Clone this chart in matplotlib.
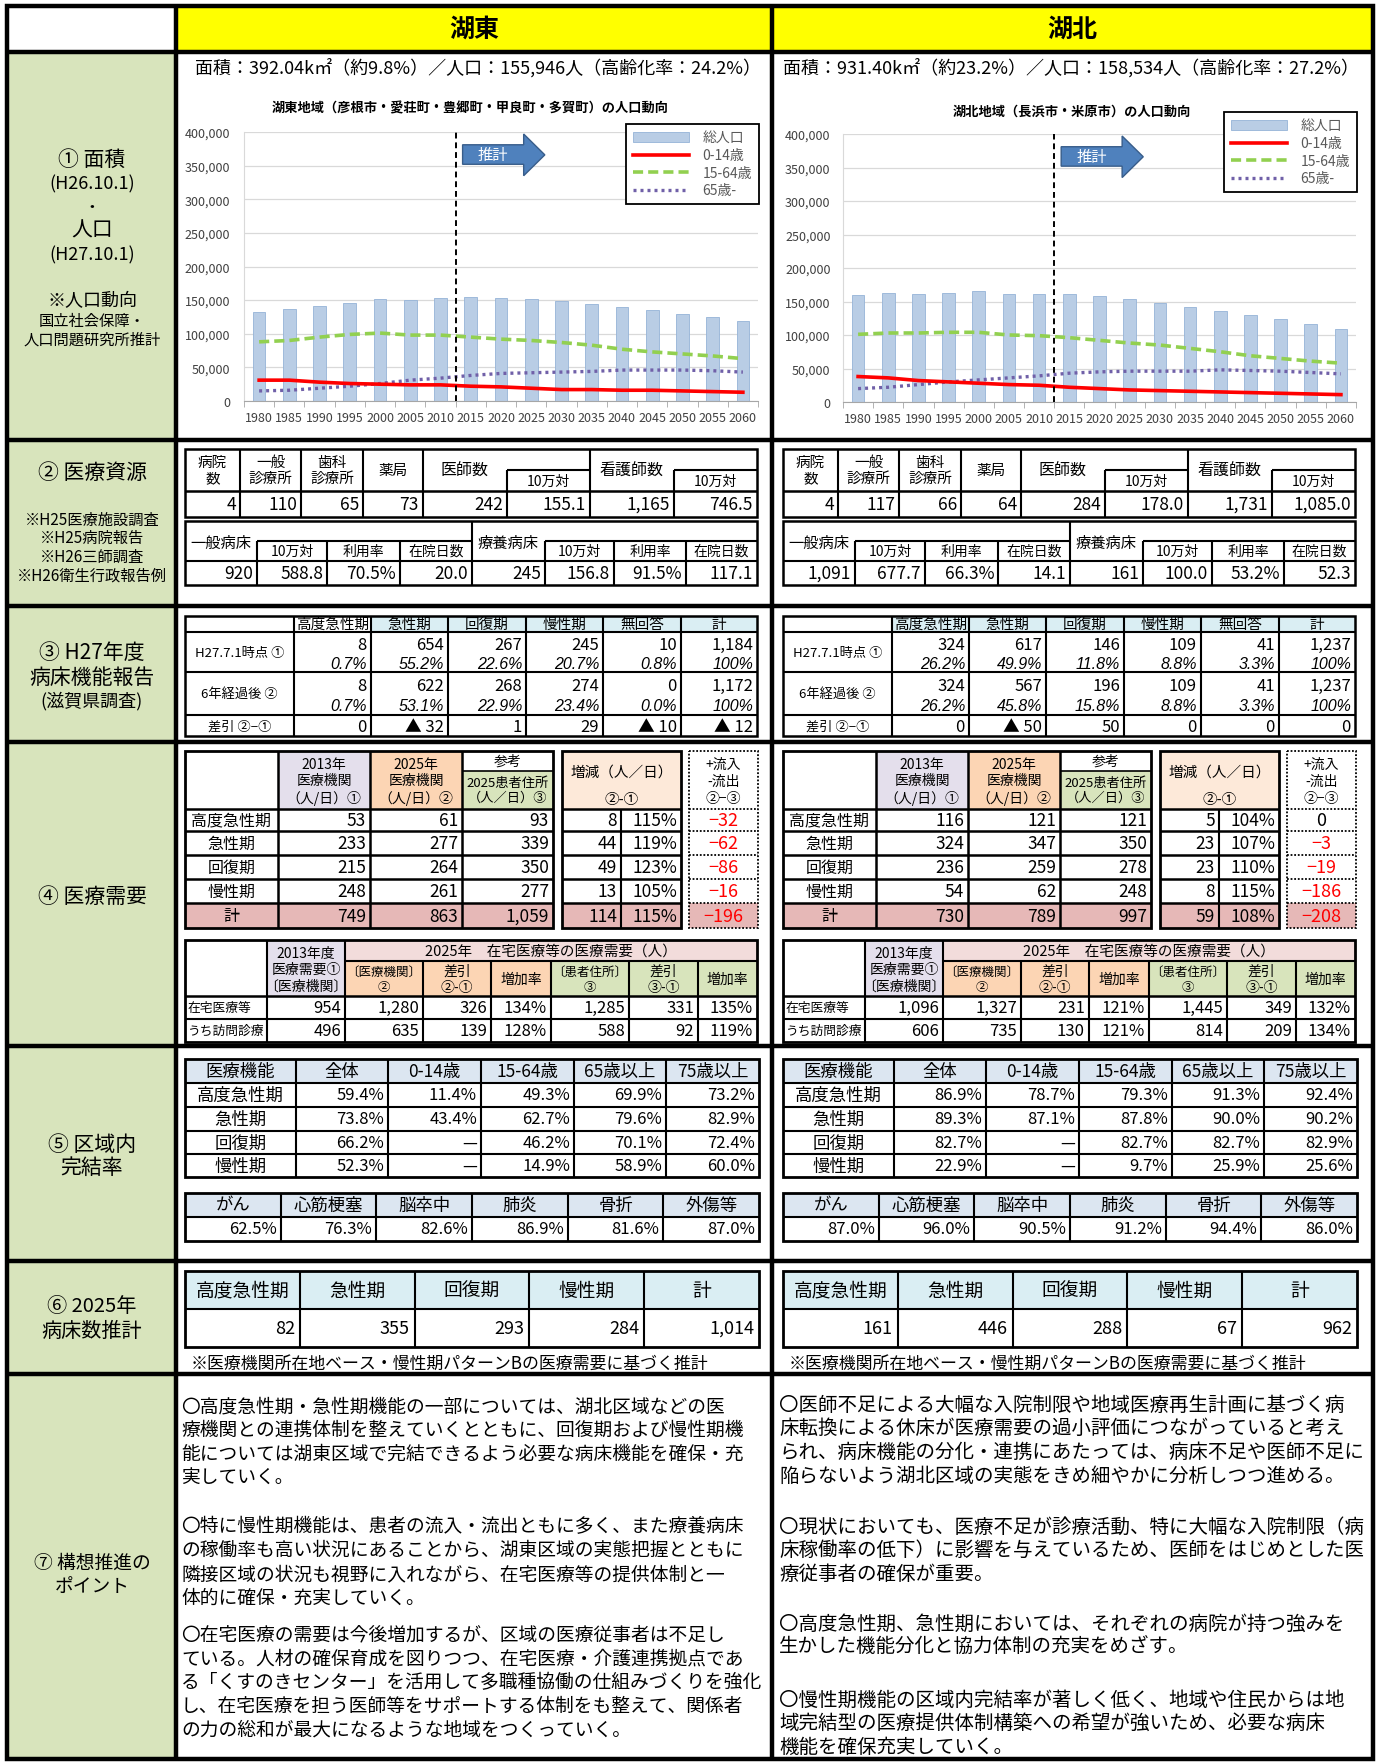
import matplotlib.pyplot as plt
import matplotlib.patches as mpatches
from matplotlib.ticker import FuncFormatter
import numpy as np

plt.rcParams['font.family'] = ['Noto Sans CJK JP', 'DejaVu Sans']

W, H = 1378, 1765

# ---------------- population trend (persons) ----------------
years = [1980, 1985, 1990, 1995, 2000, 2005, 2010, 2015, 2020, 2025,
         2030, 2035, 2040, 2045, 2050, 2055, 2060]
kt_total = [132000, 137000, 142000, 146000, 151000, 150000, 153000, 155000, 153000,
            151000, 148000, 144000, 140000, 135000, 130000, 125000, 119000]
kt_0_14 = [31000, 31000, 28000, 26000, 25000, 24000, 24000, 22000, 21000,
           19000, 17000, 17000, 16000, 16000, 15000, 14000, 13000]
kt_15_64 = [88000, 90000, 95000, 99000, 101000, 98000, 98000, 95000, 92000,
            90000, 87000, 83000, 77000, 73000, 70000, 67000, 63000]
kt_65 = [15000, 16000, 19000, 22000, 26000, 31000, 34000, 38000, 41000,
         42000, 43000, 44000, 46000, 46000, 46000, 45000, 43000]
kh_total = [160000, 162000, 161000, 162000, 165000, 161000, 161000, 161000, 158000,
            153000, 148000, 142000, 136000, 130000, 124000, 117000, 109000]
kh_0_14 = [38000, 36000, 32000, 30000, 28000, 26000, 25000, 22000, 20000,
           18000, 17000, 16000, 15000, 14000, 13000, 12000, 11000]
kh_15_64 = [101000, 103000, 103000, 104000, 104000, 100000, 99000, 96000, 92000,
            88000, 85000, 80000, 75000, 69000, 65000, 61000, 58000]
kh_65 = [20000, 22000, 26000, 30000, 33000, 36000, 39000, 43000, 45000,
         46000, 46000, 46000, 48000, 47000, 46000, 44000, 42000]
legend_labels = ['総人口', '0-14歳', '15-64歳', '65歳-']

kt_sub = '面積：392.04k㎡（約9.8%）／人口：155,946人（高齢化率：24.2%）'
kh_sub = '面積：931.40k㎡（約23.2%）／人口：158,534人（高齢化率：27.2%）'
kt_title = '湖東地域（彦根市・愛荘町・豊郷町・甲良町・多賀町）の人口動向'
kh_title = '湖北地域（長浜市・米原市）の人口動向'

# ---------------- ② resources ----------------
res_head1 = ['病院\n数', '一般\n診療所', '歯科\n診療所', '薬局', '医師数', '10万対', '看護師数', '10万対']
kt_res1 = ['4', '110', '65', '73', '242', '155.1', '1,165', '746.5']
kh_res1 = ['4', '117', '66', '64', '284', '178.0', '1,731', '1,085.0']
res_head2 = ['一般病床', '10万対', '利用率', '在院日数', '療養病床', '10万対', '利用率', '在院日数']
kt_res2 = ['920', '588.8', '70.5%', '20.0', '245', '156.8', '91.5%', '117.1']
kh_res2 = ['1,091', '677.7', '66.3%', '14.1', '161', '100.0', '53.2%', '52.3']

# ---------------- ③ bed function report ----------------
phases = ['高度急性期', '急性期', '回復期', '慢性期']
bed_head = phases + ['無回答', '計']
bed_rows = ['H27.7.1時点 ①', '6年経過後 ②', '差引 ②−①']
kt_bed_now = ['8', '654', '267', '245', '10', '1,184']
kt_pct_now = ['0.7%', '55.2%', '22.6%', '20.7%', '0.8%', '100%']
kt_bed_6y = ['8', '622', '268', '274', '0', '1,172']
kt_pct_6y = ['0.7%', '53.1%', '22.9%', '23.4%', '0.0%', '100%']
kt_bed_diff = ['0', '▲ 32', '1', '29', '▲ 10', '▲ 12']
kh_bed_now = ['324', '617', '146', '109', '41', '1,237']
kh_pct_now = ['26.2%', '49.9%', '11.8%', '8.8%', '3.3%', '100%']
kh_bed_6y = ['324', '567', '196', '109', '41', '1,237']
kh_pct_6y = ['26.2%', '45.8%', '15.8%', '8.8%', '3.3%', '100%']
kh_bed_diff = ['0', '▲ 50', '50', '0', '0', '0']

# ---------------- ④ medical demand ----------------
dm_rows = phases + ['計']
kt_dm13 = [53, 233, 215, 248, 749]
kt_dm25 = [61, 277, 264, 261, 863]
kt_dmres = [93, 339, 350, 277, 1059]
kt_dminc = [8, 44, 49, 13, 114]
kt_dmrate = ['115%', '119%', '123%', '105%', '115%']
kt_dmflow = [-32, -62, -86, -16, -196]
kh_dm13 = [116, 324, 236, 54, 730]
kh_dm25 = [121, 347, 259, 62, 789]
kh_dmres = [121, 350, 278, 248, 997]
kh_dminc = [5, 23, 23, 8, 59]
kh_dmrate = ['104%', '107%', '110%', '115%', '108%']
kh_dmflow = [0, -3, -19, -186, -208]

home_rows = ['在宅医療等', 'うち訪問診療']
home_sub = ['〔医療機関〕\n②', '差引\n②-①', '増加率', '〔患者住所〕\n③', '差引\n③-①', '増加率']
kt_home1 = ['954', '1,280', '326', '134%', '1,285', '331', '135%']
kt_home2 = ['496', '635', '139', '128%', '588', '92', '119%']
kh_home1 = ['1,096', '1,327', '231', '121%', '1,445', '349', '132%']
kh_home2 = ['606', '735', '130', '121%', '814', '209', '134%']

# ---------------- ⑤ completion rate ----------------
comp_head = ['医療機能', '全体', '0-14歳', '15-64歳', '65歳以上', '75歳以上']
kt_comp = [['59.4%', '11.4%', '49.3%', '69.9%', '73.2%'],
           ['73.8%', '43.4%', '62.7%', '79.6%', '82.9%'],
           ['66.2%', '—', '46.2%', '70.1%', '72.4%'],
           ['52.3%', '—', '14.9%', '58.9%', '60.0%']]
kh_comp = [['86.9%', '78.7%', '79.3%', '91.3%', '92.4%'],
           ['89.3%', '87.1%', '87.8%', '90.0%', '90.2%'],
           ['82.7%', '—', '82.7%', '82.7%', '82.9%'],
           ['22.9%', '—', '9.7%', '25.9%', '25.6%']]
dis_head = ['がん', '心筋梗塞', '脳卒中', '肺炎', '骨折', '外傷等']
kt_dis = ['62.5%', '76.3%', '82.6%', '86.9%', '81.6%', '87.0%']
kh_dis = ['87.0%', '96.0%', '90.5%', '91.2%', '94.4%', '86.0%']

# ---------------- ⑥ beds 2025 ----------------
beds_head = phases + ['計']
kt_beds25 = [82, 355, 293, 284, 1014]
kh_beds25 = [161, 446, 288, 67, 962]
beds_note = '※医療機関所在地ベース・慢性期パターンBの医療需要に基づく推計'

# ---------------- ⑦ points ----------------
kt_points = [
    ['〇高度急性期・急性期機能の一部については、湖北区域などの医',
     '療機関との連携体制を整えていくとともに、回復期および慢性期機',
     '能については湖東区域で完結できるよう必要な病床機能を確保・充',
     '実していく。'],
    ['〇特に慢性期機能は、患者の流入・流出ともに多く、また療養病床',
     'の稼働率も高い状況にあることから、湖東区域の実態把握とともに',
     '隣接区域の状況も視野に入れながら、在宅医療等の提供体制と一',
     '体的に確保・充実していく。'],
    ['〇在宅医療の需要は今後増加するが、区域の医療従事者は不足し',
     'ている。人材の確保育成を図りつつ、在宅医療・介護連携拠点であ',
     'る「くすのきセンター」を活用して多職種協働の仕組みづくりを強化',
     'し、在宅医療を担う医師等をサポートする体制をも整えて、関係者',
     'の力の総和が最大になるような地域をつくっていく。']]
kh_points = [
    ['〇医師不足による大幅な入院制限や地域医療再生計画に基づく病',
     '床転換による休床が医療需要の過小評価につながっていると考え',
     'られ、病床機能の分化・連携にあたっては、病床不足や医師不足に',
     '陥らないよう湖北区域の実態をきめ細やかに分析しつつ進める。'],
    ['〇現状においても、医療不足が診療活動、特に大幅な入院制限（病',
     '床稼働率の低下）に影響を与えているため、医師をはじめとした医',
     '療従事者の確保が重要。'],
    ['〇高度急性期、急性期においては、それぞれの病院が持つ強みを',
     '生かした機能分化と協力体制の充実をめざす。'],
    ['〇慢性期機能の区域内完結率が著しく低く、地域や住民からは地',
     '域完結型の医療提供体制構築への希望が強いため、必要な病床',
     '機能を確保充実していく。']]

LAV, PEACH, GREEN, PINK = '#e4dfec', '#fcd5b4', '#d8e4bc', '#e6b8b7'

fig = plt.figure(figsize=(W / 100, H / 100), dpi=100)
L = fig.add_axes([0, 0, 1, 1])
L.set_xlim(0, W)
L.set_ylim(H, 0)
L.axis('off')


def fill(x0, y0, x1, y1, fc):
    L.add_patch(mpatches.Rectangle((x0, y0), x1 - x0, y1 - y0, fc=fc, ec='none', zorder=1))


def frame(x0, y0, x1, y1, lw=1.8, ls='-'):
    L.add_patch(mpatches.Rectangle((x0, y0), x1 - x0, y1 - y0, fc='none', ec='black',
                                   lw=lw, ls=ls, zorder=3))


def hline(y, x0, x1, lw=1.5, ls='-'):
    L.plot([x0, x1], [y, y], color='black', lw=lw, ls=ls, solid_capstyle='butt', zorder=3)


def vline(x, y0, y1, lw=1.5, ls='-'):
    L.plot([x, x], [y0, y1], color='black', lw=lw, ls=ls, solid_capstyle='butt', zorder=3)


def T(x, y, s, size=11, ha='center', color='black', **kw):
    L.text(x, y, s, fontsize=size, ha=ha, va='center', color=color, zorder=5, **kw)


def mid(a, b):
    return (a + b) / 2


# ---------------- page frame ----------------
fill(9, 9, 175, 53, 'white')
fill(175, 9, 1372, 53, '#ffff00')
fill(9, 53, 175, 1759, '#d8e4bc')
TH = 3.2
frame(7, 7, 1373, 1760, lw=TH)
hline(53, 7, 1373, lw=TH)
vline(176, 7, 1760, lw=TH)
vline(772, 7, 1760, lw=TH)
for yy in [441, 607, 743, 1047, 1262, 1375]:
    hline(yy, 7, 1373, lw=TH)
T(474, 30, '湖東', 18, weight='bold')
T(1072, 30, '湖北', 18, weight='bold')

left_labels = [('① 面積', 160, 15), ('(H26.10.1)', 184, 13), ('・', 207, 12),
               ('人口', 231, 15), ('(H27.10.1)', 255, 13), ('※人口動向', 301, 13),
               ('国立社会保障・', 321, 11), ('人口問題研究所推計', 340, 11),
               ('② 医療資源', 473, 15), ('※H25医療施設調査', 520, 11),
               ('※H25病院報告', 538, 11), ('※H26三師調査', 557, 11),
               ('※H26衛生行政報告例', 576, 11),
               ('③ H27年度', 653, 15), ('病床機能報告', 678, 15), ('(滋賀県調査)', 701, 13),
               ('④ 医療需要', 897, 15), ('⑤ 区域内', 1145, 15), ('完結率', 1168, 15),
               ('⑥ 2025年', 1307, 14.5), ('病床数推計', 1331, 14.5),
               ('⑦ 構想推進の', 1563, 13.5), ('ポイント', 1586, 13.5)]
for s, yy, fs in left_labels:
    T(92, yy, s, fs)


# ---------------- ① population charts ----------------
def pop_chart(px, total, young, work, old, pad_y):
    x0, y0, x1, y1 = px
    ax = fig.add_axes([x0 / W, 1 - y1 / H, (x1 - x0) / W, (y1 - y0) / H])
    idx = np.arange(len(years))
    bars = ax.bar(idx, total, width=0.42, color='#b9cde5', ec='#95b3d7', lw=0.6, zorder=2)
    l1, = ax.plot(idx, young, color='#ff0000', lw=2.6, zorder=4)
    l2, = ax.plot(idx, work, color='#92d050', lw=2.6, dashes=(2.8, 1.4), zorder=3)
    l3, = ax.plot(idx, old, color='#7060a8', lw=2.4, dashes=(0.9, 1.2),
                  dash_capstyle='butt', zorder=3)
    ax.axvline(6.5, color='black', lw=1.4, dashes=(3, 2), zorder=5)
    ax.set_xlim(-0.5, 16.5)
    ax.set_ylim(0, 400000)
    ax.set_yticks(np.arange(0, 400001, 50000))
    ax.yaxis.set_major_formatter(FuncFormatter(lambda v, p: f'{int(v):,}'))
    ax.set_xticks(idx)
    ax.set_xticklabels([str(y) for y in years])
    ax.set_xticks(np.arange(-0.5, 17, 1), minor=True)
    ax.tick_params(axis='x', which='major', length=0, labelsize=9, colors='#404040', pad=7)
    ax.tick_params(axis='x', which='minor', length=4, color='#a6a6a6')
    ax.tick_params(axis='y', length=0, labelsize=9, colors='#404040', pad=pad_y)
    ax.grid(axis='y', color='#d9d9d9', lw=0.9)
    ax.set_axisbelow(True)
    for s in ('top', 'right'):
        ax.spines[s].set_visible(False)
    ax.spines['left'].set_color('#d9d9d9')
    ax.spines['bottom'].set_color('#a6a6a6')
    # "推計" arrow
    arrow = mpatches.Polygon([(6.73, 352000), (8.75, 352000), (8.75, 335000), (9.45, 366000),
                              (8.75, 397000), (8.75, 381000), (6.73, 381000)],
                             closed=True, fc='#4f81bd', ec='#385d8a', lw=1, zorder=6,
                             clip_on=False)
    ax.add_patch(arrow)
    ax.text(7.74, 366000, '推計', color='white', fontsize=11, ha='center', va='center', zorder=7)
    return ax, [bars, l1, l2, l3]


for px, data, pad_y, sub, sx, title, tpos, leg in [
        ((244, 133, 758, 402), (kt_total, kt_0_14, kt_15_64, kt_65), 10, kt_sub, 478,
         kt_title, (470, 108), (759, 125)),
        ((843, 135, 1356, 403), (kh_total, kh_0_14, kh_15_64, kh_65), 9, kh_sub, 1071,
         kh_title, (1072, 112), (1357, 113))]:
    ax, hs = pop_chart(px, *data, pad_y)
    T(sx, 68, sub, 13)
    T(tpos[0], tpos[1], title, 9.5, weight='bold')
    lg = ax.legend(hs, legend_labels, loc='upper right', bbox_to_anchor=(leg[0] / W, 1 - leg[1] / H),
                   bbox_transform=fig.transFigure, fontsize=10, frameon=True, fancybox=False,
                   edgecolor='black', framealpha=1, borderaxespad=0, borderpad=0.5,
                   labelspacing=0.25, handlelength=4.0, handletextpad=1.0)
    lg.get_frame().set_linewidth(1.3)
    for t in lg.get_texts():
        t.set_color('#595959')


# ---------------- ② resources ----------------
def draw_resources(ox, v1, v2):
    xs = [ox + d for d in (0, 55, 116, 178, 238, 322, 405, 489, 572)]
    frame(xs[0], 450, xs[-1], 518)
    hline(492, xs[0], xs[-1], lw=1.8)
    for i in range(1, 8):
        vline(xs[i], 471 if i in (5, 7) else 450, 518)
    hline(471, xs[5], xs[6])
    hline(471, xs[7], xs[8])
    for i in range(4):
        T(mid(xs[i], xs[i + 1]), 471, res_head1[i], 10.5, linespacing=1.15)
    T(mid(xs[4], xs[5]), 471, res_head1[4], 11.5)
    T(mid(xs[5], xs[6]), 482, res_head1[5], 10)
    T(mid(xs[6], xs[7]), 471, res_head1[6], 11.5)
    T(mid(xs[7], xs[8]), 482, res_head1[7], 10)
    for i, v in enumerate(v1):
        T(xs[i + 1] - 4, 505, v, 12.5, ha='right')

    xs = [ox + d for d in (0, 72, 142, 215, 287, 360, 429, 501, 572)]
    frame(xs[0], 522, xs[-1], 586)
    hline(562, xs[0], xs[-1])
    hline(542, xs[1], xs[4])
    hline(542, xs[5], xs[8])
    for i in range(1, 8):
        vline(xs[i], 522 if i == 4 else 542, 586)
    T(mid(xs[0], xs[1]), 543, res_head2[0], 11)
    T(mid(xs[4], xs[5]), 543, res_head2[4], 11)
    for i in (1, 2, 3, 5, 6, 7):
        T(mid(xs[i], xs[i + 1]), 552, res_head2[i], 10)
    for i, v in enumerate(v2):
        T(xs[i + 1] - 4, 574, v, 12.5, ha='right')


draw_resources(185, kt_res1, kt_res2)
draw_resources(783, kh_res1, kh_res2)


# ---------------- ③ bed function report ----------------
def draw_beds(ox, now, pnow, six, psix, diff, first_blue):
    xs = [ox + d for d in (0, 109, 186, 263, 341, 418, 496, 572)]
    ys = [617, 633, 673, 716, 737]
    for i in range(1, 7):
        fill(xs[i], ys[0], xs[i + 1], ys[1], '#daeef3' if (i > 1 or first_blue) else 'white')
    frame(xs[0], ys[0], xs[-1], ys[-1])
    for y in ys[1:-1]:
        hline(y, xs[0], xs[-1])
    for x in xs[1:-1]:
        vline(x, ys[0], ys[-1])
    for i, h in enumerate(bed_head):
        T(mid(xs[i + 1], xs[i + 2]), 625, h, 10.5)
    for lab, yy in zip(bed_rows, [653, 694, 727]):
        T(mid(xs[0], xs[1]), yy, lab, 9.5)
    it = dict(family='Liberation Sans', style='italic')
    for i in range(6):
        xr = xs[i + 2] - 4
        T(xr, 645, now[i], 12, ha='right')
        T(xr, 664, pnow[i], 11.5, ha='right', **it)
        T(xr, 686, six[i], 12, ha='right')
        T(xr, 706, psix[i], 11.5, ha='right', **it)
        T(xr, 727, diff[i], 12, ha='right')


draw_beds(185, kt_bed_now, kt_pct_now, kt_bed_6y, kt_pct_6y, kt_bed_diff, False)
draw_beds(783, kh_bed_now, kh_pct_now, kh_bed_6y, kh_pct_6y, kh_bed_diff, True)


# ---------------- ④ medical demand ----------------
def signed(v):
    return f'{v:,}'.replace('-', '−')


def draw_demand(ox, d13, d25, dres, dinc, drate, dflow, home1, home2):
    xm = [ox + d for d in (0, 93, 185, 277, 368)]
    xi = [ox + d for d in (377, 436, 496)]
    xf = [ox + d for d in (504, 573)]
    ys = [752, 810, 832, 856, 880, 904, 929]
    fill(xm[1], ys[0], xm[2], ys[1], LAV)
    fill(xm[2], ys[0], xm[3], ys[1], PEACH)
    fill(xm[3], 772, xm[4], ys[1], GREEN)
    fill(xi[0], ys[0], xi[2], ys[1], '#fde9d9')
    fill(xm[0], ys[5], xm[4], ys[6], PINK)
    fill(xi[0], ys[5], xi[2], ys[6], PINK)
    fill(xf[0], ys[5], xf[1], ys[6], PINK)
    frame(xm[0], ys[0], xm[4], ys[6], lw=2)
    for y in ys[1:-1]:
        hline(y, xm[0], xm[4], lw=1.8)
    for x in xm[1:-1]:
        vline(x, ys[0], ys[6], lw=1.8)
    hline(772, xm[3], xm[4], lw=1.2)
    frame(xi[0], ys[0], xi[2], ys[6], lw=2)
    for y in ys[1:-1]:
        hline(y, xi[0], xi[2], lw=1.8)
    vline(xi[1], ys[1], ys[6], lw=1.5)
    frame(xf[0], ys[0], xf[1], ys[6], lw=1.3, ls=(0, (1, 1)))
    for y in ys[1:-1]:
        hline(y, xf[0], xf[1], lw=1.3, ls=(0, (1, 1)))
    T(mid(xm[1], xm[2]), 782, '2013年\n医療機関\n（人/日）①', 10, linespacing=1.25)
    T(mid(xm[2], xm[3]), 782, '2025年\n医療機関\n（人/日）②', 10, linespacing=1.25)
    T(mid(xm[3], xm[4]), 762, '参考', 10)
    T(mid(xm[3], xm[4]), 791, '2025患者住所\n（人／日）③', 9.5, linespacing=1.2)
    T(mid(xi[0], xi[2]), 773, '増減（人／日）', 10.5)
    T(mid(xi[0], xi[2]), 800, '②-①', 10.5)
    T(mid(xf[0], xf[1]), 782, '+流入\n-流出\n②−③', 10, linespacing=1.25)
    for r, lab in enumerate(dm_rows):
        yc = mid(ys[r + 1], ys[r + 2])
        T(mid(xm[0], xm[1]), yc, lab, 11.5)
        for c, v in enumerate([d13[r], d25[r], dres[r]]):
            T(xm[c + 2] - 4, yc, f'{v:,}', 12.5, ha='right')
        T(xi[1] - 4, yc, f'{dinc[r]:,}', 12.5, ha='right')
        T(xi[2] - 4, yc, drate[r], 12.5, ha='right')
        T(mid(xf[0], xf[1]), yc, signed(dflow[r]), 13,
          color='#ff0000' if dflow[r] < 0 else 'black')

    xs = [ox + d for d in (0, 82, 160, 238, 306, 366, 444, 513, 572)]
    ys = [941, 962, 997, 1020, 1043]
    fill(xs[1], ys[0], xs[2], ys[2], LAV)
    fill(xs[2], ys[0], xs[8], ys[1], '#f2dcdb')
    fill(xs[2], ys[1], xs[5], ys[2], PEACH)
    fill(xs[5], ys[1], xs[8], ys[2], GREEN)
    frame(xs[0], ys[0], xs[8], ys[4], lw=2)
    hline(ys[2], xs[0], xs[8], lw=1.8)
    hline(ys[3], xs[0], xs[8])
    hline(ys[1], xs[2], xs[8])
    vline(xs[1], ys[0], ys[4])
    vline(xs[2], ys[0], ys[4])
    for x in xs[3:8]:
        vline(x, ys[1], ys[4])
    T(mid(xs[1], xs[2]), 970, '2013年度\n医療需要①\n〔医療機関〕', 10, linespacing=1.2)
    T(mid(xs[2], xs[8]), 952, '2025年　在宅医療等の医療需要（人）', 10.5)
    for i, s in enumerate(home_sub):
        T(mid(xs[i + 2], xs[i + 3]), 980, s, 9 if '〔' in s else 10, linespacing=1.2)
    for r, (lab, vals) in enumerate(zip(home_rows, [home1, home2])):
        yc = mid(ys[r + 2], ys[r + 3])
        T(xs[0] + 3, yc, lab, 9.2, ha='left')
        for c, v in enumerate(vals):
            T(xs[c + 2] - 4, yc, v, 12, ha='right')


draw_demand(185, kt_dm13, kt_dm25, kt_dmres, kt_dminc, kt_dmrate, kt_dmflow, kt_home1, kt_home2)
draw_demand(783, kh_dm13, kh_dm25, kh_dmres, kh_dminc, kh_dmrate, kh_dmflow, kh_home1, kh_home2)


# ---------------- ⑤ completion rate ----------------
def draw_comp(ox, rows, dis):
    xs = [ox + d for d in (0, 111, 203, 296, 389, 481, 574)]
    ys = [1060, 1084, 1108, 1132, 1155, 1178]
    fill(xs[0], ys[0], xs[-1], ys[1], '#dce6f1')
    frame(xs[0], ys[0], xs[-1], ys[-1], lw=2)
    for y in ys[1:-1]:
        hline(y, xs[0], xs[-1])
    for x in xs[1:-1]:
        vline(x, ys[0], ys[-1])
    for i, h in enumerate(comp_head):
        T(mid(xs[i], xs[i + 1]), mid(ys[0], ys[1]), h, 12.5)
    for r, lab in enumerate(phases):
        yc = mid(ys[r + 1], ys[r + 2])
        T(mid(xs[0], xs[1]), yc, lab, 12.5)
        for c, v in enumerate(rows[r]):
            T(xs[c + 2] - 4, yc, v, 12, ha='right')
    xb = np.linspace(ox, ox + 574, 7)
    yb = [1194, 1218, 1242]
    fill(xb[0], yb[0], xb[-1], yb[1], '#dce6f1')
    frame(xb[0], yb[0], xb[-1], yb[-1], lw=2)
    hline(yb[1], xb[0], xb[-1])
    for x in xb[1:-1]:
        vline(x, yb[0], yb[-1])
    for i, h in enumerate(dis_head):
        T(mid(xb[i], xb[i + 1]), mid(yb[0], yb[1]), h, 12.5)
        T(xb[i + 1] - 4, mid(yb[1], yb[2]), dis[i], 12, ha='right')


draw_comp(185, kt_comp, kt_dis)
draw_comp(783, kh_comp, kh_dis)


# ---------------- ⑥ beds 2025 ----------------
def draw_beds25(ox, vals):
    xs = np.linspace(ox, ox + 574, 6)
    ys = [1272, 1310, 1348]
    fill(xs[0], ys[0], xs[-1], ys[1], '#daeef3')
    frame(xs[0], ys[0], xs[-1], ys[-1], lw=2)
    hline(ys[1], xs[0], xs[-1])
    for x in xs[1:-1]:
        vline(x, ys[0], ys[-1])
    for i, h in enumerate(beds_head):
        T(mid(xs[i], xs[i + 1]), mid(ys[0], ys[1]), h, 13.5)
        T(xs[i + 1] - 5, mid(ys[1], ys[2]), f'{vals[i]:,}', 13, ha='right')
    T(ox + 6, 1364, beds_note, 12.2, ha='left')


draw_beds25(185, kt_beds25)
draw_beds25(783, kh_beds25)


# ---------------- ⑦ points ----------------
def draw_points(x, paras, starts, size):
    for para, y0 in zip(paras, starts):
        for k, line in enumerate(para):
            T(x, y0 + k * 23.7, line, size, ha='left')


draw_points(181, kt_points, [1407, 1527, 1635], 13.5)
draw_points(779, kh_points, [1405, 1527, 1624, 1700], 14)

fig.savefig('out.png', dpi=100)
